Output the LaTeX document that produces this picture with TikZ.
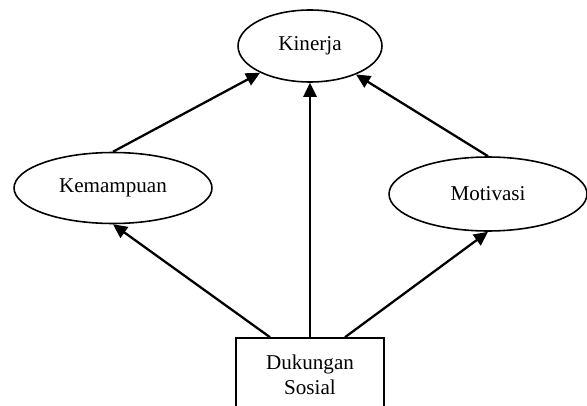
\documentclass[tikz,border=0pt]{standalone}
\usepackage{fontspec}
\setmainfont{Liberation Serif}
\usepackage{tikz}
\usetikzlibrary{
  arrows.meta,      % Triangle arrow tips
  shapes.geometric, % ellipse nodes
  positioning       % relative placement
}

\begin{document}
\begin{tikzpicture}[x=0.02cm, y=-0.02cm, font=\fontsize{12}{14}\selectfont,
  varbox/.style={draw, ellipse, line width=0.9pt, inner sep=0pt,
    minimum width=3.96cm, minimum height=1.42cm},
  srcbox/.style={draw, rectangle, line width=0.9pt, align=center, inner sep=0pt,
    minimum width=2.96cm, minimum height=1.48cm},
  link/.style={line width=1.3pt, -{Triangle[length=8pt, width=7.5pt]}}]
  % ===== frame =====
  \useasboundingbox (0, 0) rectangle (587, 405);

  % ===== variables =====
  % outcome at the top
  \node[varbox, minimum width=2.88cm, minimum height=1.44cm] (kinerja) at (310, 46) {Kinerja};
  % two mediators, left and right
  \node[varbox] (kemampuan) at (113, 188) {Kemampuan};
  \node[varbox, minimum height=1.48cm] (motivasi) at (488, 194) {Motivasi};
  % source box, cut by the bottom edge
  \node[srcbox] (dukungan) at (310, 375) {Dukungan\\Sosial};

  % ===== links =====
  % mediators -> outcome
  \draw[link] (kemampuan.north) -- (kinerja);
  \draw[link] (motivasi.north) -- (kinerja);

  % source -> outcome and mediators
  \draw[link] (dukungan.north) -- (kinerja.south);
  \draw[link] ([xshift=-0.8cm]dukungan.north) -- (kemampuan.south);
  \draw[link] ([xshift=0.7cm]dukungan.north) -- (motivasi.south);
\end{tikzpicture}
\end{document}
